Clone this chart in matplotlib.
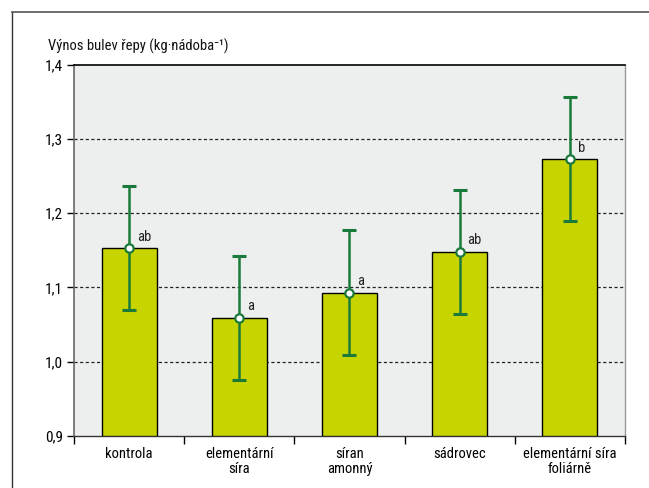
import numpy as np
import matplotlib.pyplot as plt
from matplotlib.lines import Line2D

categories = ['kontrola', 'elementární\nsíra', 'síran\namonný', 'sádrovec', 'elementární síra\nfoliárně']
means = [1.153, 1.059, 1.093, 1.148, 1.273]
errors = [0.084, 0.084, 0.084, 0.084, 0.084]
letters = ['ab', 'a', 'a', 'ab', 'b']
yticks = [0.9, 1.0, 1.1, 1.2, 1.3, 1.4]

plt.rcParams['font.family'] = ['Roboto Condensed', 'DejaVu Sans']

bar_color = '#c8d400'
err_color = '#1a7a3a'
bg_color = '#edeeee'

fig = plt.figure(figsize=(6.49, 4.88), dpi=100, facecolor='white')
ax = fig.add_axes([0.114, 0.107, 0.849, 0.760])
ax.set_facecolor(bg_color)

x = np.arange(len(categories))
ax.bar(x, [m - 0.9 for m in means], bottom=0.9, width=0.5, color=bar_color,
       edgecolor='black', linewidth=1.0, zorder=3)
ax.errorbar(x, means, yerr=errors, fmt='none', ecolor=err_color, elinewidth=1.8,
            capsize=5, capthick=2.2, zorder=4)
ax.plot(x, means, 'o', markersize=6, markerfacecolor='white', markeredgecolor=err_color,
        markeredgewidth=1.6, zorder=5)
for xi, m, lab in zip(x, means, letters):
    ax.text(xi + 0.07, m + 0.006, lab, fontsize=10.5, color='#222222',
            ha='left', va='bottom', zorder=6)

ax.set_xlim(-0.5, len(categories) - 0.5)
ax.set_ylim(0.9, 1.4)
ax.set_yticks(yticks)
ax.set_yticklabels([f'{v:.1f}'.replace('.', ',') for v in yticks], fontsize=11)

# category boundaries carry the ticks, labels sit centred under the bars
ax.set_xticks(np.arange(-0.5, len(categories), 1.0))
ax.set_xticklabels([])
ax.set_xticks(x, minor=True)
ax.set_xticklabels(categories, minor=True, fontsize=10.5, linespacing=1.1, va='top')
ax.tick_params(axis='x', which='minor', length=0, pad=8)
ax.tick_params(axis='x', which='major', length=6, width=1.0, direction='out')
ax.tick_params(axis='y', length=5, width=1.0, direction='out', pad=3)

for yv in yticks[1:-1]:
    ax.axhline(yv, color='#222222', linestyle=(0, (2.5, 2)), linewidth=0.9, zorder=1)

ax.spines['top'].set_color('black')
ax.spines['top'].set_linewidth(1.2)
ax.spines['bottom'].set_color('#333333')
ax.spines['bottom'].set_linewidth(1.0)
ax.spines['left'].set_color('#666666')
ax.spines['left'].set_linewidth(1.2)
ax.spines['right'].set_color('#999999')
ax.spines['right'].set_linewidth(1.0)

fig.text(0.074, 0.896, 'Výnos bulev řepy (kg·nádoba⁻¹)', fontsize=10.5,
         ha='left', va='baseline', color='#111111')

# outer frame (left and top edges)
fig.add_artist(Line2D([0.0185, 0.0185], [0.0, 0.975], transform=fig.transFigure,
                      color='#333333', linewidth=1.0))
fig.add_artist(Line2D([0.0185, 1.0], [0.975, 0.975], transform=fig.transFigure,
                      color='#555555', linewidth=1.2))

fig.savefig('out.png', dpi=100, facecolor='white')
